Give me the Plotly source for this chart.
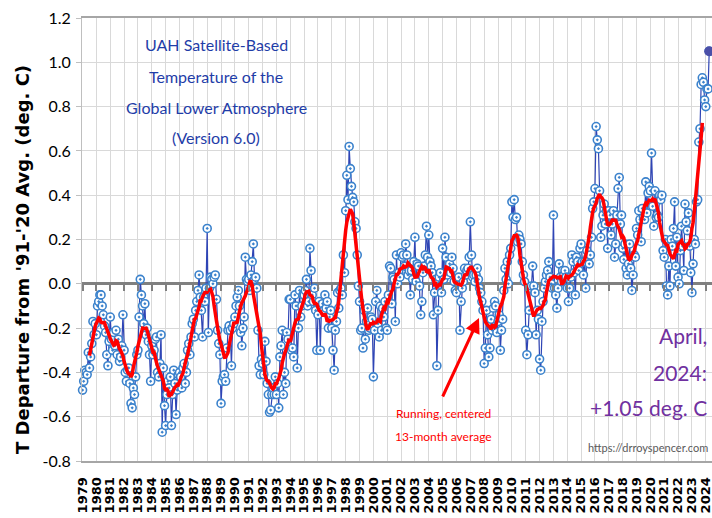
import numpy as np
import plotly.graph_objects as go

# Monthly global lower-troposphere anomalies (deg C, vs 1991-2020), Jan 1979 .. Apr 2024
anom_1979_1989 = [
    -0.48, -0.44, -0.39, -0.40, -0.41, -0.31, -0.38, -0.33, -0.27, -0.17, -0.23, -0.18,
    -0.23, -0.10, -0.08, -0.05, -0.05, -0.10, -0.14, -0.19, -0.22, -0.32, -0.37, -0.26,
    -0.15, -0.25, -0.30, -0.22, -0.28, -0.21, -0.32, -0.25, -0.35, -0.33, -0.28, -0.14,
    -0.30, -0.40, -0.44, -0.39, -0.38, -0.45, -0.54, -0.56, -0.47, -0.50, -0.42, -0.32,
    -0.30, -0.15, 0.02, -0.05, -0.10, -0.18, -0.09, -0.23, -0.20, -0.26, -0.32, -0.44,
    -0.28, -0.32, -0.30, -0.25, -0.24, -0.40, -0.42, -0.36, -0.23, -0.67, -0.38, -0.55,
    -0.64, -0.50, -0.44, -0.47, -0.42, -0.64, -0.50, -0.39, -0.45, -0.59, -0.48, -0.41,
    -0.40, -0.42, -0.47, -0.38, -0.36, -0.45, -0.40, -0.30, -0.27, -0.32, -0.24, -0.18,
    -0.16, -0.24, -0.12, -0.08, -0.03, 0.04, -0.06, -0.12, -0.24, -0.06, -0.08, -0.02,
    0.25, -0.22, -0.02, 0.03, 0.02, 0.00, 0.03, 0.04, -0.07, -0.21, -0.27, -0.32,
    -0.54, -0.44, -0.42, -0.41, -0.44, -0.29, -0.21, -0.19, -0.21, -0.37, -0.20, -0.18,
]
anom_1990_1999 = [
    -0.15, -0.10, -0.06, -0.03, -0.10, -0.22, -0.28, -0.20, -0.15, 0.12, 0.02, 0.01,
    0.02, -0.03, 0.04, 0.10, 0.18, 0.02, 0.03, -0.02, -0.21, -0.37, -0.41, -0.34,
    -0.36, -0.41, -0.26, -0.35, -0.45, -0.50, -0.58, -0.57, -0.50, -0.47, -0.50, -0.42,
    -0.50, -0.45, -0.56, -0.33, -0.28, -0.21, -0.50, -0.40, -0.45, -0.22, -0.25, -0.07,
    -0.07, -0.30, -0.29, -0.33, -0.05, -0.10, -0.38, -0.20, -0.03, -0.15, -0.10, -0.05,
    -0.05, -0.03, 0.02, -0.10, -0.08, 0.16, 0.06, -0.05, -0.08, -0.02, -0.12, -0.30,
    -0.14, -0.08, -0.30, -0.11, -0.09, -0.12, -0.05, -0.11, -0.08, -0.20, -0.15, -0.12,
    -0.20, -0.30, -0.39, -0.21, -0.17, -0.04, -0.11, -0.03, -0.02, -0.05, 0.13, 0.05,
    0.33, 0.49, 0.38, 0.62, 0.52, 0.44, 0.39, 0.37, 0.28, 0.25, 0.13, -0.01,
    -0.08, -0.21, -0.20, -0.29, -0.12, -0.25, -0.17, -0.11, -0.21, -0.20, -0.15, -0.16,
]
anom_2000_2009 = [
    -0.42, -0.21, -0.08, -0.03, -0.18, -0.24, -0.10, -0.21, -0.11, -0.15, -0.08, -0.20,
    -0.21, -0.05, 0.08, 0.07, -0.09, 0.03, 0.02, -0.17, 0.13, 0.00, 0.05, 0.03,
    0.14, 0.12, 0.13, 0.08, 0.18, 0.13, 0.04, 0.06, -0.05, 0.06, 0.02, 0.10,
    0.21, 0.01, 0.09, 0.08, -0.01, -0.14, -0.08, 0.05, 0.08, 0.13, 0.26, 0.12,
    0.22, 0.10, 0.08, 0.05, -0.14, -0.04, 0.02, -0.37, -0.12, 0.03, 0.05, -0.04,
    0.16, 0.02, 0.21, 0.12, 0.04, 0.07, 0.09, 0.05, 0.12, 0.07, 0.01, -0.03,
    -0.04, 0.01, 0.03, -0.21, -0.08, -0.02, 0.01, 0.07, 0.04, 0.06, 0.07, 0.12,
    0.28, 0.13, 0.03, 0.04, 0.01, 0.04, 0.07, 0.02, -0.02, -0.04, -0.08, -0.12,
    -0.36, -0.29, -0.12, -0.23, -0.33, -0.29, -0.16, -0.21, -0.11, -0.08, -0.10, -0.22,
    -0.17, -0.14, -0.30, -0.21, -0.16, -0.03, 0.07, 0.02, 0.10, 0.00, 0.13, 0.16,
]
anom_2010_2019 = [
    0.37, 0.30, 0.38, 0.29, 0.30, 0.19, 0.22, 0.20, 0.18, 0.10, 0.04, 0.01,
    -0.21, -0.32, -0.23, -0.12, -0.02, -0.01, 0.08, -0.01, -0.04, -0.23, -0.12, -0.16,
    -0.34, -0.39, -0.17, -0.08, -0.02, 0.01, 0.04, 0.06, 0.10, 0.03, 0.00, -0.02,
    0.31, -0.02, -0.05, -0.11, -0.02, 0.09, 0.03, 0.01, 0.06, 0.04, 0.06, 0.03,
    -0.02, -0.08, -0.02, 0.03, 0.13, 0.10, 0.05, -0.05, 0.12, 0.10, 0.06, 0.16,
    0.18, 0.10, 0.04, 0.10, -0.02, 0.15, 0.12, 0.09, 0.13, 0.21, 0.34, 0.37,
    0.43, 0.71, 0.65, 0.61, 0.42, 0.21, 0.26, 0.31, 0.36, 0.27, 0.33, 0.16,
    0.33, 0.31, 0.22, 0.27, 0.33, 0.12, 0.18, 0.31, 0.43, 0.48, 0.27, 0.31,
    0.16, 0.11, 0.18, 0.07, 0.04, 0.09, 0.18, 0.07, -0.03, 0.04, 0.13, 0.12,
    0.25, 0.22, 0.33, 0.29, 0.19, 0.34, 0.30, 0.29, 0.46, 0.32, 0.41, 0.44,
]
anom_2020_2024 = [
    0.42, 0.59, 0.35, 0.26, 0.42, 0.30, 0.31, 0.30, 0.40, 0.38, 0.40, 0.15,
    0.12, 0.20, -0.01, -0.05, 0.08, -0.01, 0.20, 0.17, 0.25, 0.37, 0.08, 0.21,
    0.03, 0.00, 0.15, 0.26, 0.17, 0.06, 0.36, 0.28, 0.24, 0.32, 0.17, 0.05,
    -0.04, 0.09, 0.20, 0.18, 0.37, 0.38, 0.64, 0.70, 0.90, 0.93, 0.91, 0.83,
    0.80, 0.88, 0.88, 1.05,
]
START_YEAR = 1979
year_ticks = list(range(1979, 2025))
year_labels = [str(y) for y in year_ticks]
y_ticks = [-0.8, -0.6, -0.4, -0.2, 0.0, 0.2, 0.4, 0.6, 0.8, 1.0, 1.2]
y_labels = ["-0.8", "-0.6", "-0.4", "-0.2", "0.0", "0.2", "0.4", "0.6", "0.8", "1.0", "1.2"]

values = np.array(anom_1979_1989 + anom_1990_1999 + anom_2000_2009 + anom_2010_2019 + anom_2020_2024)
t = START_YEAR + np.arange(len(values)) / 12.0
run = np.convolve(values, np.ones(13) / 13.0, mode="valid")
t_run = t[6:len(values) - 6]

# layout geometry (page pixels; body margin removed below)
W, H = 712, 518
L, R, T, B = 82, 0, 18, 518 - 461
PW, PH = W - L - R, H - T - B


def px(xp):
    return (xp - L) / PW


def py(yp):
    return (H - B - yp) / PH


SANS = "Lato, sans-serif"

fig = go.Figure()
fig.add_trace(go.Scatter(
    x=t, y=values, mode="lines+markers",
    line=dict(color="#2F45B5", width=1.2),
    marker=dict(symbol="circle-dot", size=8, color="white",
                line=dict(color="#3B82CC", width=1.6)),
    cliponaxis=False, showlegend=False, hoverinfo="skip"))
fig.add_trace(go.Scatter(
    x=t_run, y=run, mode="lines", xaxis="x2",
    line=dict(color="#FF0000", width=3.5),
    showlegend=False, hoverinfo="skip"))
fig.add_trace(go.Scatter(
    x=[t[-1]], y=[values[-1]], mode="markers",
    marker=dict(size=10, color="#4B4FA8"),
    cliponaxis=False, showlegend=False, hoverinfo="skip"))

fig.update_layout(
    width=W, height=H,
    margin=dict(l=L, r=R, t=T, b=B, autoexpand=False),
    paper_bgcolor="white", plot_bgcolor="white",
    xaxis=dict(
        range=[1978.96, 2024.45], tickmode="array", tickvals=year_ticks, ticktext=year_labels,
        tickangle=-90, showgrid=True, gridcolor="#D9D9D9", gridwidth=1,
        ticks="", showline=True, mirror=True, linecolor="#A6A6A6", linewidth=2,
        zeroline=False, ticklabelstandoff=9, ticklabeloverflow="allow",
        tickfont=dict(family="DejaVu Sans", size=13, color="black", weight="bold")),
    xaxis2=dict(
        overlaying="x", matches="x", anchor="free", position=0.4, side="bottom",
        tickmode="array", tickvals=year_ticks, showticklabels=False,
        ticks="outside", ticklen=6, tickwidth=2, tickcolor="#808080",
        showgrid=False, showline=False, zeroline=False),
    yaxis=dict(
        range=[-0.8, 1.2], tickmode="array", tickvals=y_ticks, ticktext=y_labels,
        showgrid=True, gridcolor="#D9D9D9", gridwidth=1,
        zeroline=True, zerolinecolor="#808080", zerolinewidth=3,
        showline=True, linecolor="#BFBFBF", linewidth=1,
        ticks="outside", ticklen=5, tickcolor="#BFBFBF", ticklabelstandoff=2,
        ticklabeloverflow="allow",
        tickfont=dict(family=SANS, size=16, color="black")),
    shapes=[
        dict(type="rect", xref="paper", yref="paper", x0=px(105), x1=px(330), y0=py(157), y1=py(23),
             fillcolor="white", line=dict(width=0), layer="between"),
        dict(type="rect", xref="paper", yref="paper", x0=px(587), x1=1.0, y0=py(427), y1=py(312),
             fillcolor="white", line=dict(width=0), layer="between"),
    ],
)

ann = []
title_lines = ["UAH Satellite-Based", "Temperature of the", "Global Lower Atmosphere", "(Version 6.0)"]
for line, yp in zip(title_lines, [45, 76, 107, 137]):
    ann.append(dict(text=line, xref="paper", yref="paper", x=px(216), y=py(yp),
                    xanchor="center", yanchor="middle", showarrow=False,
                    font=dict(family=SANS, size=16, color="#1F3DA8")))
ann.append(dict(text="T Departure from '91-'20 Avg. (deg. C)", xref="paper", yref="paper",
                x=px(22), y=py(260), xanchor="center", yanchor="middle", textangle=-90,
                showarrow=False, font=dict(family="DejaVu Sans", size=18, color="black", weight="bold")))
for line, yp in zip(["Running, centered", "13-month average"], [413, 436]):
    ann.append(dict(text=line, xref="paper", yref="paper", x=px(443), y=py(yp),
                    xanchor="center", yanchor="middle", showarrow=False,
                    font=dict(family=SANS, size=12, color="#FF0000")))
ann.append(dict(text="", xref="paper", yref="paper", x=px(479), y=py(318),
                ax=442 - 479, ay=398 - 318, axref="pixel", ayref="pixel",
                showarrow=True, arrowhead=2, arrowsize=1, arrowwidth=3, arrowcolor="#FF0000"))
for line, yp in zip(["April,", "2024:", "+1.05 deg. C"], [335, 372, 407]):
    ann.append(dict(text=line, xref="paper", yref="paper", x=px(709), y=py(yp),
                    xanchor="right", yanchor="middle", showarrow=False,
                    font=dict(family=SANS, size=21, color="#7030A0")))
ann.append(dict(text="https://drroyspencer.com", xref="paper", yref="paper", x=px(710), y=py(447),
                xanchor="right", yanchor="middle", showarrow=False,
                font=dict(family=SANS, size=11, color="#595959")))
fig.update_layout(annotations=ann)

fig.write_html(
    "out.html",
    config={"displayModeBar": False},
    post_script="document.body.style.margin='0';document.body.style.padding='0';"
                "document.body.style.overflow='hidden';",
)
